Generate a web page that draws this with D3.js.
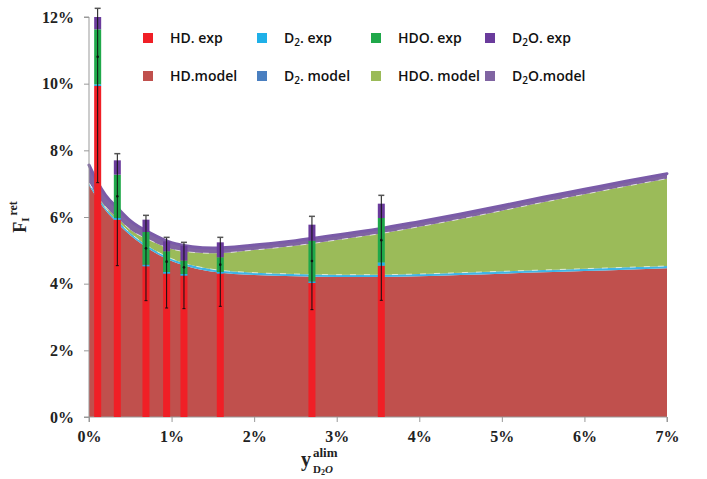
<!DOCTYPE html>
<html>
<head>
<meta charset="utf-8">
<script src="https://cdn.jsdelivr.net/npm/d3@7"></script>
<style>
  body { margin: 0; background: #fff; }
  svg text { font-family: "Liberation Serif", serif; }
  .axis text { font-weight: bold; font-size: 16px; fill: #222; }
  .axis path, .axis line { stroke: #999; }
  .legend text { font-family: "Open Sans", sans-serif; font-weight: 600; font-size: 14px; fill: #111; }
</style>
</head>
<body>
<svg width="707" height="479"></svg>
<script>
// experimental bars (values in %)
const barX   = [0.105, 0.343, 0.69, 0.94, 1.15, 1.59, 2.70, 3.54];
const hdExp  = [9.93, 5.92, 4.52, 4.30, 4.24, 4.30, 4.02, 4.54];
const d2Exp  = [0.05, 0.05, 0.05, 0.05, 0.05, 0.05, 0.05, 0.10];
const hdoExp = [1.65, 1.30, 0.98, 0.62, 0.40, 0.44, 1.22, 1.33];
const d2oExp = [0.37, 0.43, 0.37, 0.30, 0.45, 0.45, 0.48, 0.43];
const errLow = [2.90, 1.38, 1.03, 1.03, 0.99, 0.98, 0.80, 1.04];
const errTop = [0.26, 0.20, 0.13, 0.12, 0.10, 0.15, 0.25, 0.25];

// model curves (layer thickness in %)
const modelX   = [0, 0.1, 0.2, 0.35, 0.5, 0.75, 1.0, 1.25, 1.5, 2.0, 2.5, 3.0, 3.5, 4.0, 4.5, 5.0, 5.5, 6.0, 6.5, 7.0];
const hdModel  = [6.95, 6.55, 6.20, 5.80, 5.45, 5.00, 4.68, 4.48, 4.36, 4.26, 4.22, 4.20, 4.20, 4.22, 4.26, 4.30, 4.34, 4.38, 4.42, 4.46];
const d2Model  = [0.07, 0.07, 0.07, 0.07, 0.07, 0.07, 0.07, 0.07, 0.07, 0.07, 0.07, 0.07, 0.07, 0.07, 0.07, 0.07, 0.07, 0.07, 0.07, 0.07];
const hdoModel = [0.00, 0.02, 0.04, 0.09, 0.10, 0.22, 0.29, 0.39, 0.48, 0.68, 0.85, 1.04, 1.22, 1.42, 1.61, 1.82, 2.03, 2.23, 2.43, 2.62];
const d2oModel = [0.54, 0.42, 0.35, 0.30, 0.27, 0.22, 0.19, 0.17, 0.16, 0.15, 0.15, 0.15, 0.15, 0.15, 0.15, 0.15, 0.15, 0.15, 0.15, 0.15];

const xTicks = [0, 1, 2, 3, 4, 5, 6, 7];
const yTicks = [0, 2, 4, 6, 8, 10, 12];

const svg = d3.select('svg');
const pLeft = 89, pRight = 667, pTop = 17, pBottom = 417;

const x = d3.scaleLinear().domain([0, 7]).range([pLeft, pRight]);
const y = d3.scaleLinear().domain([0, 12]).range([pBottom, pTop]);

// model areas
const keys = ['hd', 'd2', 'hdo', 'd2o'];
const modelRows = modelX.map((v, i) => ({x: v, hd: hdModel[i], d2: d2Model[i], hdo: hdoModel[i], d2o: d2oModel[i]}));
const layers = d3.stack().keys(keys)(modelRows);
const areaFill = {hd: '#c0504d', d2: '#3fb4e6', hdo: '#9bbb59', d2o: '#8064a2'};

const area = d3.area().curve(d3.curveMonotoneX)
  .x(d => x(d.data.x)).y0(d => y(d[0])).y1(d => y(d[1]));
const topLine = d3.line().curve(d3.curveMonotoneX)
  .x(d => x(d.data.x)).y(d => y(d[1]));

svg.append('g').selectAll('path').data(layers).join('path')
  .attr('d', area)
  .attr('fill', d => areaFill[d.key]);

// thin dashed edges, like the excel area borders
svg.append('g').selectAll('path').data(layers.filter(l => l.key == 'd2' || l.key == 'hdo')).join('path')
  .attr('d', topLine)
  .attr('fill', 'none')
  .attr('stroke', '#fff')
  .attr('stroke-width', 0.8)
  .attr('stroke-dasharray', '6,8')
  .attr('opacity', 0.8);

// thick purple top line
svg.append('path').datum(layers[3])
  .attr('d', topLine)
  .attr('fill', 'none')
  .attr('stroke', '#7a5ba8')
  .attr('stroke-width', 3)
  .attr('stroke-linecap', 'round');

// axes
const yAxis = svg.append('g').attr('class', 'axis')
  .attr('transform', `translate(${pLeft},0)`)
  .call(d3.axisLeft(y).tickValues(yTicks).tickFormat(d => d + '%').tickSize(5).tickPadding(10));
const xAxis = svg.append('g').attr('class', 'axis')
  .attr('transform', `translate(0,${pBottom})`)
  .call(d3.axisBottom(x).tickValues(xTicks).tickFormat(d => d + '%').tickSize(5).tickPadding(9));
yAxis.select('.domain').attr('d', `M-5,${pTop}H0V${pBottom}H-5`);
xAxis.select('.domain').attr('d', `M${pLeft},5V0H${pRight}V5`);

// experimental stacked bars
const barRows = barX.map((v, i) => ({x: v, hd: hdExp[i], d2: d2Exp[i], hdo: hdoExp[i], d2o: d2oExp[i], lo: errLow[i], hi: errTop[i]}));
const barLayers = d3.stack().keys(keys)(barRows);
const barFill = {hd: '#f01f26', d2: '#1fb0e8', hdo: '#1fa84a', d2o: '#6a3b9c'};
const bw = 7;

svg.append('g').selectAll('g').data(barLayers).join('g')
  .attr('fill', d => barFill[d.key])
  .selectAll('rect').data(d => d).join('rect')
  .attr('x', d => x(d.data.x) - bw / 2)
  .attr('width', bw)
  .attr('y', d => y(d[1]))
  .attr('height', d => y(d[0]) - y(d[1]));

// error bars
const eb = svg.append('g').selectAll('g').data(barRows).join('g');
eb.append('line')
  .attr('x1', d => x(d.x)).attr('x2', d => x(d.x))
  .attr('y1', d => y(d.hd - d.lo))
  .attr('y2', d => y(d.hd + d.d2 + d.hdo + d.d2o + d.hi))
  .attr('stroke', '#111').attr('stroke-width', 1);
eb.append('line')
  .attr('x1', d => x(d.x) - 3).attr('x2', d => x(d.x) + 3)
  .attr('y1', d => y(d.hd + d.d2 + d.hdo + d.d2o + d.hi))
  .attr('y2', d => y(d.hd + d.d2 + d.hdo + d.d2o + d.hi))
  .attr('stroke', '#555').attr('stroke-width', 1.5);
eb.append('line')
  .attr('x1', d => x(d.x) - 1.5).attr('x2', d => x(d.x) + 1.5)
  .attr('y1', d => y(d.hd - d.lo)).attr('y2', d => y(d.hd - d.lo))
  .attr('stroke', '#111').attr('stroke-width', 1);
eb.append('circle')
  .attr('cx', d => x(d.x)).attr('cy', d => y(d.hd + d.d2 + d.hdo / 2))
  .attr('r', 1.3).attr('fill', '#111');

// legend
const legendItems = [
  {name: ['HD. exp'], color: '#f01f26'},
  {name: ['D', '2', '. exp'], color: '#1fb0e8'},
  {name: ['HDO. exp'], color: '#1fa84a'},
  {name: ['D', '2', 'O. exp'], color: '#6a3b9c'},
  {name: ['HD.model'], color: '#c0504d'},
  {name: ['D', '2', '. model'], color: '#4a7fc0'},
  {name: ['HDO. model'], color: '#9bbb59'},
  {name: ['D', '2', 'O.model'], color: '#8064a2'}
];
const lg = svg.append('g').attr('class', 'legend').selectAll('g').data(legendItems).join('g')
  .attr('transform', (d, i) => `translate(${143 + (i % 4) * 114},${i < 4 ? 33 : 71})`);
lg.append('rect').attr('width', 10).attr('height', 10).attr('fill', d => d.color);
const lt = lg.append('text').attr('x', 27).attr('y', 10);
lt.each(function(d) {
  const t = d3.select(this);
  t.append('tspan').text(d.name[0]);
  if (d.name.length > 1) {
    t.append('tspan').attr('font-size', '10px').attr('dy', 3).text(d.name[1]);
    t.append('tspan').attr('dy', -3).text(d.name[2]);
  }
});

// axis titles
const yt = svg.append('text')
  .attr('transform', 'translate(26,217) rotate(-90)')
  .attr('text-anchor', 'middle')
  .attr('font-weight', 'bold').attr('fill', '#222');
yt.append('tspan').attr('font-size', '18px').text('F');
yt.append('tspan').attr('font-size', '11px').attr('dy', 3).text('I');
yt.append('tspan').attr('font-size', '12px').attr('dy', -12).attr('dx', 2).text('ret');

const xt = svg.append('g').attr('font-weight', 'bold').attr('fill', '#222');
xt.append('text').attr('x', 301).attr('y', 466).attr('font-size', '20px').text('y');
xt.append('text').attr('x', 313).attr('y', 457).attr('font-size', '13px').text('alim');
const sub = xt.append('text').attr('x', 313).attr('y', 473).attr('font-size', '11px');
sub.append('tspan').text('D');
sub.append('tspan').attr('font-size', '8px').attr('dy', 2).text('2');
sub.append('tspan').attr('dy', -2).attr('font-style', 'italic').text('O');
</script>
</body>
</html>
